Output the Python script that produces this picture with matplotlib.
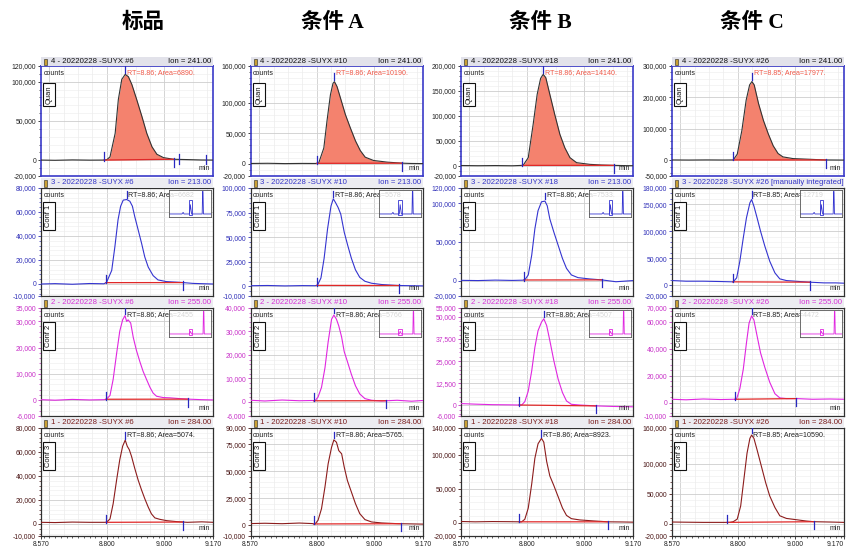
import matplotlib
matplotlib.use('Agg')
import matplotlib.pyplot as plt
import numpy as np
from matplotlib.patches import Rectangle
from matplotlib.ticker import FixedLocator, MultipleLocator, FuncFormatter

plt.rcParams['font.family'] = ['Liberation Sans', 'DejaVu Sans']

# ---------------- data ----------------
col_titles = ['标品', '条件 A', '条件 B', '条件 C']
sample_tags = ['#6', '#10', '#18', '#26']
row_tags = ['Quan', 'Conf 1', 'Conf 2', 'Conf 3']
row_numbers = ['4', '3', '2', '1']
ion_values = ['241.00', '213.00', '255.00', '284.00']
rt_labels = ['8.86', '8.86', '8.86', '8.85']
area_std = ['6890.', '6682', '2455', '5074.']
area_a = ['10190.', '5578', '5766', '5765.']
area_b = ['14140.', '7533.', '4507', '8923.']
area_c = ['17977.', '12719', '4472', '10590.']
x_tick_values = [8.570, 8.800, 9.000, 9.170]
x_tick_labels = ['8.570', '8.800', '9.000', '9.170']

# integration start / end times (min), rows: Quan, Conf1, Conf2, Conf3
start_std = [8.790, 8.797, 8.797, 8.797]
end_std = [9.032, 9.065, 9.083, 9.065]
start_a = [8.800, 8.800, 8.790, 8.790]
end_a = [9.097, 9.087, 9.043, 9.095]
start_b = [8.784, 8.790, 8.773, 8.773]
end_b = [9.102, 9.060, 9.042, 9.083]
start_c = [8.784, 8.782, 8.790, 8.763]
end_c = [9.106, 9.050, 9.004, 9.065]

# y-axis ranges and tick values
ylim_std = [(-20000, 120000), (-10000, 80000), (-6000, 35000), (-10000, 80000)]
yticks_std = [[-20000, 0, 50000, 100000, 120000], [-10000, 0, 20000, 40000, 60000, 80000],
              [-6000, 0, 10000, 20000, 30000, 35000], [-10000, 0, 20000, 40000, 60000, 80000]]
ylim_a = [(-20000, 160000), (-10000, 100000), (-6000, 40000), (-10000, 90000)]
yticks_a = [[-20000, 0, 50000, 100000, 160000], [-10000, 0, 25000, 50000, 75000, 100000],
            [-6000, 0, 10000, 20000, 30000, 40000], [-10000, 0, 25000, 50000, 75000, 90000]]
ylim_b = [(-20000, 200000), (-20000, 120000), (-6000, 55000), (-20000, 140000)]
yticks_b = [[-20000, 0, 50000, 100000, 150000, 200000], [-20000, 0, 50000, 100000, 120000],
            [-6000, 0, 12500, 25000, 37500, 50000, 55000], [-20000, 0, 50000, 100000, 140000]]
ylim_c = [(-50000, 300000), (-20000, 180000), (-10000, 70000), (-20000, 160000)]
yticks_c = [[-50000, 0, 100000, 200000, 300000], [-20000, 0, 50000, 100000, 150000, 180000],
            [-10000, 0, 20000, 40000, 60000, 70000], [-20000, 0, 50000, 100000, 160000]]

# ---- traces: 标品 ----
t_std_quan = [8.570, 8.620, 8.680, 8.740, 8.790, 8.800, 8.811, 8.829, 8.840, 8.852, 8.864, 8.875, 8.887,
              8.904, 8.922, 8.939, 8.957, 8.974, 8.997, 9.032, 9.080, 9.130, 9.170]
y_std_quan = [300, 0, 500, 200, 300, 800, 4300, 34300, 77200, 103000, 109400, 106400, 96500,
              77200, 55800, 34300, 17200, 7700, 3400, 1300, 900, 400, 300]
t_std_c1 = [8.570, 8.620, 8.680, 8.740, 8.790, 8.799, 8.817, 8.828, 8.839, 8.848, 8.857, 8.869, 8.880,
            8.889, 8.897, 8.909, 8.921, 8.932, 8.944, 8.961, 8.978, 9.007, 9.054, 9.100, 9.140, 9.170]
y_std_c1 = [0, 300, -200, 400, 200, 1400, 11300, 31000, 53500, 64800, 69900, 70400, 69000,
            64800, 56300, 45100, 33800, 22500, 14100, 7000, 3400, 2000, 1400, 500, 200, 0]
t_std_c2 = [8.570, 8.620, 8.680, 8.740, 8.790, 8.799, 8.811, 8.822, 8.834, 8.845, 8.855, 8.863, 8.869,
            8.874, 8.883, 8.892, 8.903, 8.915, 8.926, 8.938, 8.950, 8.961, 8.973, 8.996, 9.019, 9.054,
            9.083, 9.130, 9.170]
y_std_c2 = [200, 0, 300, 100, 200, 400, 1800, 7900, 17700, 26200, 30500, 32100, 29900,
            30500, 29300, 23800, 18900, 14600, 11000, 7900, 4900, 2700, 1500, 1000, 900, 600,
            400, 200, 100]
t_std_c3 = [8.570, 8.620, 8.680, 8.740, 8.790, 8.799, 8.811, 8.822, 8.834, 8.845, 8.855, 8.864, 8.871,
            8.878, 8.886, 8.897, 8.909, 8.921, 8.932, 8.944, 8.955, 8.967, 8.984, 9.008, 9.042, 9.080,
            9.130, 9.170]
y_std_c3 = [1400, 1200, 1600, 1400, 1400, 1400, 4200, 16900, 36600, 53500, 64800, 69900, 64800,
            62000, 56300, 46500, 36600, 28200, 21100, 14100, 8500, 5100, 3900, 2800, 2000, 1400,
            1800, 1400]

# ---- traces: 条件 A ----
t_a_quan = [8.570, 8.630, 8.690, 8.750, 8.795, 8.807, 8.825, 8.836, 8.848, 8.857, 8.862, 8.871, 8.883,
            8.900, 8.917, 8.935, 8.952, 8.969, 8.998, 9.045, 9.097, 9.130, 9.170]
y_a_quan = [500, 800, 300, 600, 500, 1000, 25800, 69900, 112900, 131700, 134400, 126300, 107500,
            80600, 59100, 37600, 21500, 10800, 5400, 2700, 1000, 500, 300]
t_a_c1 = [8.570, 8.630, 8.690, 8.750, 8.795, 8.803, 8.815, 8.826, 8.838, 8.850, 8.858, 8.866, 8.875,
          8.884, 8.896, 8.908, 8.921, 8.935, 8.950, 8.968, 8.991, 9.026, 9.083, 9.130, 9.170]
y_a_c1 = [500, 700, 300, 600, 500, 1000, 8300, 28300, 58300, 81700, 89000, 85000, 80000,
          73300, 55000, 41700, 28300, 16700, 9000, 5000, 3000, 1700, 700, 500, 300]
t_a_c2 = [8.570, 8.620, 8.680, 8.740, 8.785, 8.794, 8.805, 8.817, 8.829, 8.840, 8.852, 8.860, 8.869,
          8.877, 8.887, 8.896, 8.907, 8.921, 8.935, 8.950, 8.968, 8.991, 9.026, 9.080, 9.130, 9.170]
y_a_c2 = [700, 400, 800, 500, 600, 400, 2100, 6200, 14500, 25500, 35200, 37000, 35200,
          32400, 27600, 21400, 17200, 11700, 6900, 3400, 1400, 700, 400, 700, 300, 600]
t_a_c3 = [8.570, 8.620, 8.680, 8.740, 8.785, 8.794, 8.805, 8.817, 8.829, 8.840, 8.852, 8.860, 8.869,
          8.877, 8.887, 8.896, 8.907, 8.921, 8.935, 8.950, 8.968, 8.991, 9.026, 9.083, 9.130, 9.170]
y_a_c3 = [1500, 1800, 1400, 2000, 1500, 900, 4600, 15300, 35400, 56800, 72200, 79000, 76800,
          69100, 66100, 53800, 41400, 30700, 20000, 10700, 5200, 3000, 2100, 1400, 1200, 1000]

# ---- traces: 条件 B ----
t_b_quan = [8.570, 8.630, 8.690, 8.750, 8.787, 8.805, 8.822, 8.836, 8.848, 8.857, 8.866, 8.880, 8.897,
            8.915, 8.932, 8.950, 8.973, 9.019, 9.060, 9.100, 9.140, 9.170]
y_b_quan = [1000, 600, 900, 500, 1300, 16700, 83300, 143300, 175300, 183300, 176700, 143300, 103300,
            63300, 36700, 16700, 6700, 3300, 2000, 1300, 800, 600]
t_b_c1 = [8.570, 8.630, 8.690, 8.750, 8.785, 8.793, 8.805, 8.817, 8.828, 8.839, 8.851, 8.863, 8.871,
          8.880, 8.894, 8.909, 8.924, 8.938, 8.955, 8.978, 9.019, 9.060, 9.110, 9.170]
y_b_c1 = [300, 0, 600, 200, 500, 900, 7300, 32900, 67100, 90600, 102100, 103000, 97000,
          79900, 62800, 45700, 28600, 15800, 7300, 3800, 2100, 900, -1500, 0]
t_b_c2 = [8.570, 8.620, 8.680, 8.740, 8.775, 8.782, 8.793, 8.805, 8.817, 8.828, 8.839, 8.851, 8.859,
          8.869, 8.880, 8.894, 8.909, 8.924, 8.938, 8.955, 8.984, 9.042, 9.100, 9.170]
y_b_c2 = [1000, 700, 400, 300, 200, 200, 2100, 8100, 19500, 32800, 42200, 47000, 48900,
          45100, 36600, 25200, 14800, 7200, 2500, 600, 200, -300, -600, -800]
t_b_c3 = [8.570, 8.620, 8.680, 8.740, 8.775, 8.782, 8.793, 8.805, 8.817, 8.828, 8.839, 8.851, 8.859,
          8.869, 8.880, 8.894, 8.909, 8.924, 8.938, 8.955, 8.984, 9.030, 9.082, 9.130, 9.170]
y_b_c3 = [1500, 1000, 1400, 1200, 1000, 1000, 4800, 21400, 57100, 95200, 116600, 124700, 119000,
          90400, 69000, 54700, 38100, 21400, 10500, 5700, 3800, 2400, 1000, 800, 500]

# ---- traces: 条件 C ----
t_c_quan = [8.570, 8.630, 8.690, 8.750, 8.784, 8.798, 8.814, 8.829, 8.841, 8.849, 8.857, 8.872, 8.889,
            8.906, 8.923, 8.940, 8.957, 8.992, 9.050, 9.102, 9.140, 9.170]
y_c_quan = [1100, 800, 1200, 900, 1100, 19400, 94600, 191400, 239800, 250500, 239800, 180600, 126900,
            83900, 46200, 21500, 10800, 5400, 3200, 1100, 900, 700]
t_c_c1 = [8.570, 8.620, 8.680, 8.740, 8.784, 8.796, 8.807, 8.819, 8.830, 8.842, 8.848, 8.856, 8.867,
          8.879, 8.894, 8.911, 8.929, 8.946, 8.969, 9.015, 9.050, 9.100, 9.140, 9.170]
y_c_c1 = [8600, 7400, 7400, 6800, 6200, 13600, 44400, 87700, 124700, 152500, 158600, 146300, 124700,
          100000, 72200, 44400, 22800, 11700, 8600, 6800, 5600, 4300, 4300, 3700]
t_c_c2 = [8.570, 8.620, 8.680, 8.740, 8.790, 8.796, 8.807, 8.819, 8.830, 8.839, 8.848, 8.856, 8.865,
          8.879, 8.894, 8.911, 8.929, 8.946, 8.969, 9.004, 9.060, 9.120, 9.170]
y_c_c2 = [2400, 2000, 2600, 2200, 2400, 2900, 10200, 24700, 44100, 58700, 64200, 61100, 51400,
          36800, 25900, 15000, 6500, 3400, 2900, 2900, 2400, 2600, 2400]
t_c_c3 = [8.570, 8.620, 8.680, 8.740, 8.772, 8.784, 8.798, 8.810, 8.821, 8.832, 8.842, 8.848, 8.856,
          8.867, 8.882, 8.897, 8.911, 8.929, 8.946, 8.969, 9.004, 9.039, 9.065, 9.120, 9.170]
y_c_c3 = [3300, 3000, 2700, 2700, 2700, 3800, 8200, 30200, 74100, 118000, 142700, 148200, 142700,
          123500, 96100, 68600, 46700, 27500, 13700, 9300, 7100, 4900, 3800, 3300, 2700]

# mini overview chromatograms (inset), relative units
inset_x_conf1 = [0.0, 0.30, 0.33, 0.35, 0.45, 0.48, 0.50, 0.53, 0.78, 0.79, 0.80, 0.81, 1.0]
inset_y_conf1 = [0.10, 0.10, 0.16, 0.10, 0.10, 0.10, 0.45, 0.10, 0.10, 0.95, 0.95, 0.10, 0.10]
inset_x_conf2 = [0.0, 0.45, 0.48, 0.50, 0.53, 0.80, 0.81, 0.82, 0.83, 1.0]
inset_y_conf2 = [0.10, 0.10, 0.10, 0.20, 0.10, 0.10, 0.95, 0.95, 0.10, 0.10]

# extra (non-integrated) peak-boundary ticks in the 标品 Quan trace
extra_marks_std_quan = [9.050, 9.145]

# ---------------- assemble ----------------
traces = [
    [(t_std_quan, y_std_quan), (t_std_c1, y_std_c1), (t_std_c2, y_std_c2), (t_std_c3, y_std_c3)],
    [(t_a_quan, y_a_quan), (t_a_c1, y_a_c1), (t_a_c2, y_a_c2), (t_a_c3, y_a_c3)],
    [(t_b_quan, y_b_quan), (t_b_c1, y_b_c1), (t_b_c2, y_b_c2), (t_b_c3, y_b_c3)],
    [(t_c_quan, y_c_quan), (t_c_c1, y_c_c1), (t_c_c2, y_c_c2), (t_c_c3, y_c_c3)],
]
starts = [start_std, start_a, start_b, start_c]
ends = [end_std, end_a, end_b, end_c]
ylims = [ylim_std, ylim_a, ylim_b, ylim_c]
yticks = [yticks_std, yticks_a, yticks_b, yticks_c]
areas = [area_std, area_a, area_b, area_c]
insets = {1: (inset_x_conf1, inset_y_conf1), 2: (inset_x_conf2, inset_y_conf2)}

# ---------------- style / layout ----------------
W, H = 849, 550
col_left = [40.7, 250.5, 460.7, 671.7]
col_w = 172.5
row_top = [66, 188, 308, 428]
row_bot = [176, 296, 416, 536]
bar_h = [9, 10, 10, 10]
title_x = [143, 332, 540, 752]

trace_colors = ['#333333', '#3434d0', '#e026e0', '#8c1c1c']
tick_colors = ['#222222', '#3030b8', '#c830c8', '#4a1616']
bar_text_colors = ['#111111', '#3434c8', '#d630d6', '#7a1c1c']
frame_colors = ['#3a3ac8', '#303030', '#303030', '#303030']
marker_color = '#2828c0'
base_color = '#e02828'
fill_color = '#f4826e'
grid_major_x = [8.6, 8.8, 9.0]
grid_minor_x = [8.65, 8.7, 8.75, 8.85, 8.9, 8.95, 9.05, 9.1, 9.15]
small_font = ['Liberation Sans Narrow', 'Liberation Sans', 'DejaVu Sans']

fig = plt.figure(figsize=(8.49, 5.50), dpi=100)

for c in range(4):
    fig.text(title_x[c] / W, 1 - 23 / H, col_titles[c], ha='center', va='center',
             fontsize=15.5, fontweight='bold', family=['Liberation Serif', 'Noto Sans CJK SC'])
    L = col_left[c]
    for r in range(4):
        t = np.array(traces[c][r][0])
        y = np.array(traces[c][r][1])
        lo, hi = ylims[c][r]
        ticks = yticks[c][r]
        rng = hi - lo
        tc = trace_colors[r]

        ax = fig.add_axes([L / W, 1 - row_bot[r] / H, col_w / W, (row_bot[r] - row_top[r]) / H])
        ax.set_xlim(8.57, 9.17)
        ax.set_ylim(lo, hi)

        # grid
        for gx in grid_minor_x:
            ax.axvline(gx, color='#ebebeb', lw=0.5, zorder=0)
        for gx in grid_major_x:
            ax.axvline(gx, color='#cdcdcd', lw=0.6, zorder=0)
        ax.yaxis.set_major_locator(FixedLocator(ticks))
        ax.yaxis.set_minor_locator(MultipleLocator((ticks[2] - ticks[1]) / 5))
        ax.yaxis.set_major_formatter(FuncFormatter(lambda v, p: f"{int(round(v)):,}"))
        ax.grid(True, axis='y', which='major', color='#cdcdcd', lw=0.6, zorder=0)
        ax.grid(True, axis='y', which='minor', color='#ededed', lw=0.4, zorder=0)
        ax.set_axisbelow(True)

        ax.tick_params(axis='y', which='major', length=2.5, width=0.6, colors=tick_colors[r],
                       labelsize=4.9, pad=0.8)
        ax.tick_params(axis='y', which='minor', length=1.3, width=0.5, colors=tick_colors[r])
        for lab in ax.get_yticklabels():
            lab.set_family(small_font)

        if r == 3:
            ax.set_xticks(x_tick_values)
            ax.set_xticklabels(x_tick_labels, family=small_font)
            ax.xaxis.set_minor_locator(MultipleLocator(0.02))
            ax.tick_params(axis='x', which='major', length=2.5, width=0.6, labelsize=4.9, pad=1,
                           colors='#222222')
            ax.tick_params(axis='x', which='minor', length=1.3, width=0.5, colors='#222222')
            if c == 3:
                ax.get_xticklabels()[-1].set_horizontalalignment('right')
        else:
            ax.tick_params(axis='x', which='both', bottom=False, labelbottom=False)

        for sp in ax.spines.values():
            sp.set_color(frame_colors[r])
            sp.set_linewidth(1.2 if r == 0 else 0.9)

        s, e = starts[c][r], ends[c][r]
        bs = np.interp(s, t, y)
        be = np.interp(e, t, y)

        if r == 0:
            mask = (t >= s) & (t <= e)
            ax.fill_between(t, y, np.interp(t, [s, e], [bs, be]), where=mask,
                            interpolate=True, color=fill_color, lw=0, zorder=2)
        ax.plot(t, y, color=tc, lw=0.8, zorder=3)
        ax.plot([s, e], [bs, be], color=base_color, lw=0.9, zorder=3)

        # integration markers
        ax.plot([s, s], [bs - 0.005 * rng, bs + 0.07 * rng], color=marker_color, lw=0.9, zorder=4)
        ax.plot([e, e], [be - 0.07 * rng, be + 0.01 * rng], color=marker_color, lw=0.9, zorder=4)
        if c == 0 and r == 0:
            for xm in extra_marks_std_quan:
                bm = np.interp(xm, t, y)
                ax.plot([xm, xm], [bm - 0.04 * rng, bm + 0.05 * rng], color=marker_color,
                        lw=0.9, zorder=4)
        i = int(np.argmax(y))
        ax.plot([t[i], t[i]], [y[i] + 0.015 * rng, y[i] + 0.075 * rng], color=marker_color,
                lw=0.9, zorder=4, clip_on=True)

        # annotations
        txt_col = '#f05a4a' if r == 0 else '#222222'
        ax.text(t[i] + 0.006, hi - 0.025 * rng, f"RT={rt_labels[c]}; Area={areas[c][r]}",
                ha='left', va='top', fontsize=5.1, color=txt_col, family=small_font, zorder=4)
        ax.text(0.015, 0.93, 'counts', transform=ax.transAxes, ha='left', va='center',
                fontsize=5, color='#222222', family=small_font)
        ax.text(0.98, 0.07, 'min', transform=ax.transAxes, ha='right', va='center',
                fontsize=5, color='#222222', family=small_font)
        ax.text(0.048, 0.74, row_tags[r], transform=ax.transAxes, rotation=90, ha='center',
                va='center', fontsize=5.4, color='#111111', family=small_font,
                bbox=dict(boxstyle='square,pad=0.35', fc='white', ec='#111111', lw=0.8))

        if r in insets:
            ix, iy = insets[r]
            ins = ax.inset_axes([0.745, 0.735, 0.245, 0.245])
            ins.set_xlim(0, 1)
            ins.set_ylim(0, 1)
            ins.set_xticks([])
            ins.set_yticks([])
            ins.patch.set_facecolor('white')
            ins.patch.set_alpha(0.82)
            for sp in ins.spines.values():
                sp.set_color('#555555')
                sp.set_linewidth(0.6)
            ins.plot(ix, iy, color=tc, lw=0.6)
            ins.add_patch(Rectangle((0.46, 0.06), 0.09, 0.55 if r == 1 else 0.22, fill=False,
                                    ec=tc, lw=0.6))

        # title bar above panel
        bt = row_top[r] - bar_h[r]
        fig.patches.append(Rectangle((L / W, 1 - row_top[r] / H), col_w / W, bar_h[r] / H,
                                     transform=fig.transFigure, fc='#e2e2ea' if r == 0 else '#ececf1',
                                     ec='none', zorder=0))
        fig.patches.append(Rectangle(((L + 3) / W, 1 - (row_top[r] - 1.5) / H), 3.5 / W,
                                     (bar_h[r] - 3) / H, transform=fig.transFigure,
                                     fc='#c9a035', ec='#222222', lw=0.4, zorder=1))
        ymid = 1 - (bt + bar_h[r] / 2) / H
        label = f"{row_numbers[r]} - 20220228 -SUYX {sample_tags[c]}"
        manual = (c == 3 and r == 1)
        if manual:
            label += " [manually integrated]"
        fig.text((L + 10) / W, ymid, label, ha='left', va='center', fontsize=5.6,
                 color=bar_text_colors[r], family=small_font)
        if not manual:
            fig.text((L + col_w - 2) / W, ymid, f"Ion = {ion_values[r]}", ha='right', va='center',
                     fontsize=5.6, color=bar_text_colors[r], family=small_font)

fig.savefig('out.png', dpi=100)
